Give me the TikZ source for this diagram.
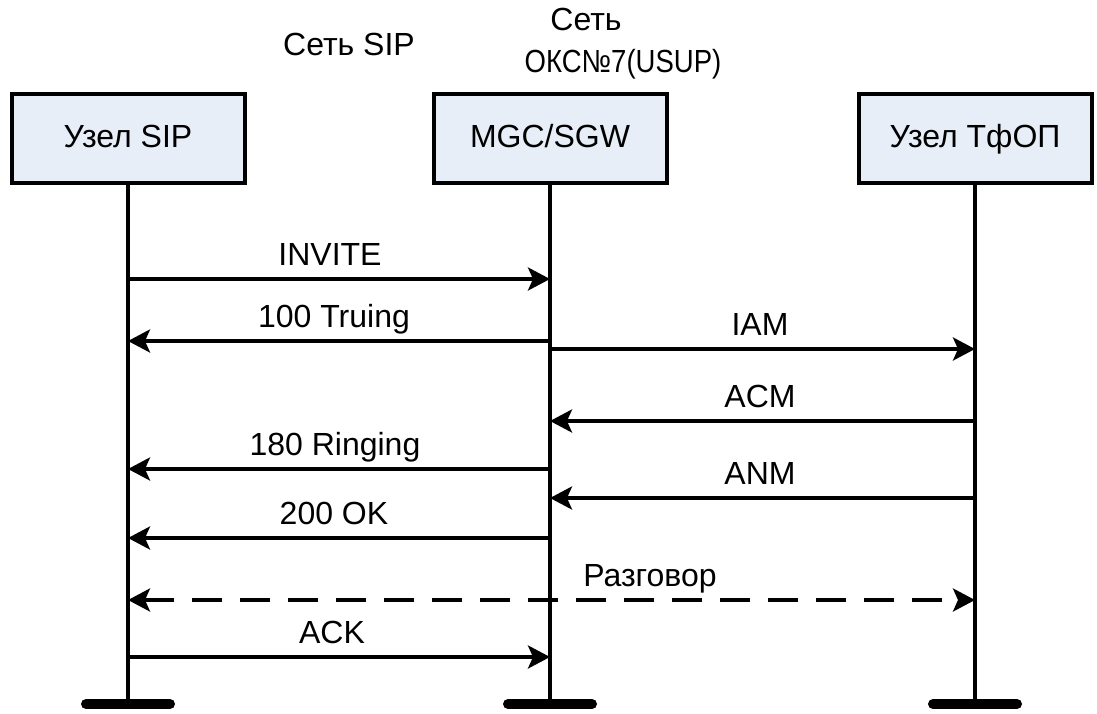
\documentclass[tikz,border=0pt]{standalone}
\usepackage{fontspec}
\setmainfont{Liberation Sans}
\usetikzlibrary{arrows.meta}
\definecolor{boxfill}{RGB}{232,238,248}

\begin{document}
\begin{tikzpicture}[x=1pt,y=-1pt,
  every node/.style={font=\fontsize{32}{36}\selectfont},
  entity/.style={draw, line width=4pt, fill=boxfill, minimum width=233pt,
                 minimum height=89pt, inner sep=0pt, text height=17pt, text depth=0pt},
  life/.style={line width=4pt},
  foot/.style={line width=10pt, line cap=round},
  msg/.style={line width=3.6pt, -{Stealth[length=22pt,width=23pt,inset=5pt]}},
  talk/.style={msg, {Stealth[length=22pt,width=23pt,inset=5pt]}-{Stealth[length=22pt,width=23pt,inset=5pt]},
               dash pattern=on 30pt off 18pt},
  lbl/.style={anchor=base, inner sep=0pt}]
\useasboundingbox (0,0) rectangle (1097,713);

% network captions
\node[lbl] (netsip) at (349,55) {Сеть SIP};
\node[lbl] (netss7a) at (586,30) {Сеть};
\node[lbl] (netss7b) at (623,72) {\scalebox{0.86}[1]{ОКС№7(USUP)}};

% participants
\node[entity] (sip) at (128,138.5) {Узел SIP};
\node[entity] (mgc) at (550,138.5) {MGC/SGW};
\node[entity] (pstn) at (975,138.5) {Узел ТфОП};

% lifeline ends
\coordinate (bot) at (0,704);
\coordinate (sipend) at (sip |- bot);
\coordinate (mgcend) at (mgc |- bot);
\coordinate (pstnend) at (pstn |- bot);
\draw[life] (sip.south) -- (sipend);
\draw[life] (mgc.south) -- (mgcend);
\draw[life] (pstn.south) -- (pstnend);
\draw[foot] ([xshift=-42pt]sipend) -- ([xshift=42pt]sipend);
\draw[foot] ([xshift=-42pt]mgcend) -- ([xshift=42pt]mgcend);
\draw[foot] ([xshift=-42pt]pstnend) -- ([xshift=42pt]pstnend);

% message levels
\coordinate (m1) at (0,279);
\coordinate (m2) at (0,341);
\coordinate (m3) at (0,349);
\coordinate (m4) at (0,421);
\coordinate (m5) at (0,469);
\coordinate (m6) at (0,498);
\coordinate (m7) at (0,538);
\coordinate (m8) at (0,600);
\coordinate (m9) at (0,657);

\draw[msg] (sip |- m1) -- (mgc |- m1);
\node[lbl] at (330,265) {INVITE};
\draw[msg] (mgc |- m2) -- (sip |- m2);
\node[lbl] at (334,327) {100 Truing};
\draw[msg] (mgc |- m3) -- (pstn |- m3);
\node[lbl] at (760,335) {IAM};
\draw[msg] (pstn |- m4) -- (mgc |- m4);
\node[lbl] at (760,407) {ACM};
\draw[msg] (mgc |- m5) -- (sip |- m5);
\node[lbl] at (335,455) {180 Ringing};
\draw[msg] (pstn |- m6) -- (mgc |- m6);
\node[lbl] at (760,484) {ANM};
\draw[msg] (mgc |- m7) -- (sip |- m7);
\node[lbl] at (334,524) {200 OK};
\draw[talk] (sip |- m8) -- (pstn |- m8);
\node[lbl] at (650,586) {Разговор};
\draw[msg] (sip |- m9) -- (mgc |- m9);
\node[lbl] at (332,643) {ACK};
\end{tikzpicture}
\end{document}
